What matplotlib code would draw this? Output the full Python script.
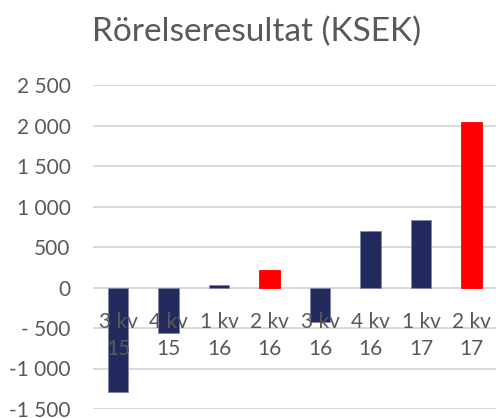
import matplotlib
matplotlib.use("Agg")
import matplotlib.pyplot as plt

# Rörelseresultat per kvartal (KSEK)
kvartal = ["3 kv\n15", "4 kv\n15", "1 kv\n16", "2 kv\n16",
           "3 kv\n16", "4 kv\n16", "1 kv\n17", "2 kv\n17"]
resultat = [-1290, -560, 30, 220, -420, 695, 835, 2040]
markerad = [False, False, False, True, False, False, False, True]

y_ticks = [-1500, -1000, -500, 0, 500, 1000, 1500, 2000, 2500]
y_labels = ["-1 500", "-1 000", "- 500", "0", "500", "1 000", "1 500", "2 000", "2 500"]

navy = "#232B5E"
red = "#FF0000"
grey = "#595959"

plt.rcParams["font.family"] = ["Lato", "DejaVu Sans"]

fig = plt.figure(figsize=(4.96, 4.18), dpi=100)
W, H = 496, 418
left, right = 92.75, 496.75
top, bottom = 85, 409
ax = fig.add_axes([left / W, 1 - bottom / H, (right - left) / W, (bottom - top) / H])

farger = [red if m else navy for m in markerad]
x = list(range(len(kvartal)))
ax.bar(x, resultat, width=0.41, color=farger, edgecolor="#7F86A8", linewidth=0.6, zorder=2)
# röda staplar utan blå kant
for rect, m in zip(ax.patches, markerad):
    if m:
        rect.set_edgecolor(red)

ax.set_xlim(-0.5, len(kvartal) - 0.5)
ax.set_ylim(-1500, 2500)
ax.set_yticks(y_ticks)
ax.set_yticklabels(y_labels)
ax.set_xticks([])
ax.grid(axis="y", color="#D9D9D9", linewidth=1.4, zorder=0)
ax.set_axisbelow(True)
for s in ax.spines.values():
    s.set_visible(False)
ax.tick_params(axis="y", length=0, pad=16, labelsize=15, labelcolor=grey)

# kategorietiketter vid nollinjen, ovanpå staplarna
for i, lab in enumerate(kvartal):
    ax.annotate(lab, xy=(i, 0), xytext=(0, -18), textcoords="offset points",
                ha="center", va="top", fontsize=15, color=grey,
                linespacing=1.38, zorder=3)

fig.text(256.5 / W, 1 - 32 / H, "Rörelseresultat (KSEK)", ha="center", va="center",
         fontsize=24, color=grey)

fig.savefig("out.png", dpi=100)
